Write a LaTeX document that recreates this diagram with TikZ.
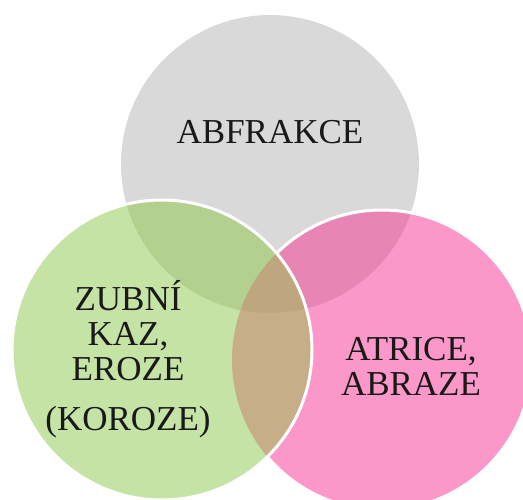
\documentclass[tikz,border=0pt]{standalone}
\usepackage{fontspec}
\setmainfont{Liberation Serif}

\definecolor{abfgray}{HTML}{D9D9D9}
\definecolor{kazgreen}{HTML}{C6E3A6}
\definecolor{atrpink}{HTML}{FB98C9}
\definecolor{abfkaz}{HTML}{B3D08F}
\definecolor{abfatr}{HTML}{E885B5}
\definecolor{kazatr}{HTML}{C6AF88}
\definecolor{allthree}{HTML}{BEA67E}

\begin{document}
\begin{tikzpicture}[x=0.5pt,y=0.5pt,
  venntext/.style={font=\fontsize{17.5}{17.5}\selectfont, text=black!90, align=center, inner sep=0pt, anchor=base},
  rim/.style={draw=white, line width=1.5pt}]

\useasboundingbox (0,0) rectangle (523,499);
\clip (0,0) rectangle (523,499);

\coordinate (abf) at (270,335);
\coordinate (kaz) at (162,149);
\coordinate (atr) at (382,139);

\fill[abfgray] (abf) circle (149);
\fill[atrpink] (atr) circle (150);
\begin{scope}
  \clip (abf) circle (149);
  \fill[abfatr] (atr) circle (150);
\end{scope}
\draw[rim] (atr) circle (150);

\fill[kazgreen] (kaz) circle (150);
\begin{scope}
  \clip (kaz) circle (150);
  \fill[kazatr] (atr) circle (150);
  \clip (abf) circle (149);
  \fill[abfkaz] (kaz) circle (150);
  \clip (atr) circle (150);
  \fill[allthree] (atr) circle (150);
\end{scope}
\draw[rim] (kaz) circle (150);

\node[venntext] (abftext) at (270,356) {ABFRAKCE};
\node[venntext] (kaztext) at (128,69) {ZUBNÍ\\KAZ,\\EROZE\\[7.5pt](KOROZE)};
\node[venntext] (atrtext) at (411,104) {ATRICE,\\ABRAZE};

\end{tikzpicture}
\end{document}
